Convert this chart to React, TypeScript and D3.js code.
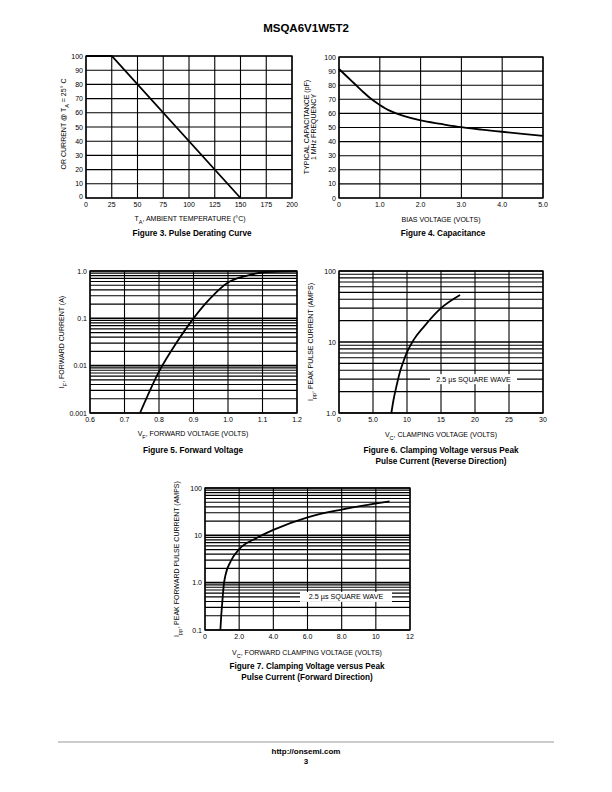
import React from "react";
import * as d3 from "d3";

// ---------- DATA ----------
const fig3TempC = [0, 25, 150];
const fig3Percent = [100, 100, 0];
const fig3XTicks = [0, 25, 50, 75, 100, 125, 150, 175, 200];
const fig3YTicks = [0, 10, 20, 30, 40, 50, 60, 70, 80, 90, 100];

const fig4BiasV = [0, 0.2, 0.4, 0.6, 0.8, 1.0, 1.2, 1.4, 1.6, 2.0, 2.5, 3.0, 3.5, 4.0, 4.5, 5.0];
const fig4CapPF = [91.5, 86, 80.5, 75, 70, 66, 62.5, 60, 58, 55, 52.5, 50.2, 48.5, 47, 45.5, 44];
const fig4XTicks = [0, 1, 2, 3, 4, 5];
const fig4XLabels = ["0", "1.0", "2.0", "3.0", "4.0", "5.0"];
const fig4YTicks = [0, 10, 20, 30, 40, 50, 60, 70, 80, 90, 100];

const fig5FwdV = [0.745, 0.8, 0.85, 0.9, 0.95, 1.0, 1.05, 1.1, 1.15, 1.2];
const fig5FwdI = [0.001, 0.0075, 0.03, 0.1, 0.27, 0.57, 0.78, 0.93, 0.97, 0.98];
const fig5XTicks = [0.6, 0.7, 0.8, 0.9, 1.0, 1.1, 1.2];
const fig5XLabels = ["0.6", "0.7", "0.8", "0.9", "1.0", "1.1", "1.2"];
const fig5YTicks = [0.001, 0.01, 0.1, 1];
const fig5YLabels = ["0.001", "0.01", "0.1", "1.0"];

const fig6ClampV = [7.7, 8.0, 8.5, 9, 9.5, 10, 11, 12.5, 15, 17.8];
const fig6PeakI = [1.0, 1.5, 2.5, 3.9, 5.4, 7.2, 10.8, 16.5, 30, 46];
const fig6XTicks = [0, 5, 10, 15, 20, 25, 30];
const fig6XLabels = ["0", "5.0", "10", "15", "20", "25", "30"];
const fig6YTicks = [1, 10, 100];
const fig6YLabels = ["1.0", "10", "100"];

const fig7ClampV = [0.9, 0.95, 1.0, 1.1, 1.2, 1.5, 2.0, 3.0, 4.0, 6.0, 8.0, 10.8];
const fig7PeakI = [0.1, 0.2, 0.34, 0.9, 1.45, 2.8, 5.1, 8.7, 13, 24, 35, 52];
const fig7XTicks = [0, 2, 4, 6, 8, 10, 12];
const fig7XLabels = ["0", "2.0", "4.0", "6.0", "8.0", "10", "12"];
const fig7YTicks = [0.1, 1, 10, 100];
const fig7YLabels = ["0.1", "1.0", "10", "100"];

const squareWaveNote = "2.5 \u00b5s SQUARE WAVE";

// ---------- STYLE ----------
const NARROW = "'Liberation Sans Narrow', 'Arial Narrow', 'Liberation Sans', Arial, sans-serif";
const SANS = "'Liberation Sans', Arial, Helvetica, sans-serif";

type PanelProps = {
  x0: number; y0: number; w: number; h: number;
  xDomain: [number, number]; yDomain: [number, number];
  logY?: boolean;
  xTicks: number[]; xLabels?: string[];
  yTicks: number[]; yLabels?: string[];
  xs: number[]; ys: number[];
  curve?: any;
  note?: { y: number; x1: number; x2: number };
  zeroRaised?: boolean;
};

function Panel(p: PanelProps) {
  const x = d3.scaleLinear().domain(p.xDomain).range([p.x0, p.x0 + p.w]);
  const y = (p.logY ? d3.scaleLog() : d3.scaleLinear()).domain(p.yDomain).range([p.y0 + p.h, p.y0]) as any;
  const hLines: { v: number; major: boolean }[] = [];
  if (p.logY) {
    const [lo, hi] = p.yDomain;
    for (let d = lo; d < hi * 0.999; d *= 10) {
      for (let k = 1; k <= 9; k++) hLines.push({ v: d * k, major: k === 1 });
    }
    hLines.push({ v: hi, major: true });
  } else {
    p.yTicks.forEach((t) => hLines.push({ v: t, major: false }));
  }
  const pts = p.xs.map((v, i) => [v, p.ys[i]] as [number, number]);
  const line = d3.line<[number, number]>().x((d) => x(d[0])).y((d) => y(d[1])).curve(p.curve || d3.curveMonotoneX);
  return (
    <g>
      {hLines.map((l, i) => (
        <line key={"h" + i} x1={p.x0} x2={p.x0 + p.w} y1={y(l.v)} y2={y(l.v)} stroke="#000" strokeWidth={l.major && p.logY ? 1.6 : 1.1} />
      ))}
      {p.xTicks.map((t, i) => (
        <line key={"v" + i} x1={x(t)} x2={x(t)} y1={p.y0} y2={p.y0 + p.h} stroke="#000" strokeWidth={1.1} />
      ))}
      <rect x={p.x0} y={p.y0} width={p.w} height={p.h} fill="none" stroke="#000" strokeWidth={1.3} />
      {p.note && (
        <g>
          <rect x={p.note.x1} y={y(p.note.y) - 5} width={p.note.x2 - p.note.x1} height={10} fill="#fff" />
          <text x={(p.note.x1 + p.note.x2) / 2} y={y(p.note.y) + 2.5} textAnchor="middle" fontSize={7.2} fontFamily={SANS}>{squareWaveNote}</text>
        </g>
      )}
      <path d={line(pts) || ""} fill="none" stroke="#000" strokeWidth={1.8} />
      {p.xTicks.map((t, i) => (
        <text key={"xl" + i} x={x(t)} y={p.y0 + p.h + 9} textAnchor="middle" fontSize={7} fontFamily={NARROW}>
          {p.xLabels ? p.xLabels[i] : String(t)}
        </text>
      ))}
      {p.yTicks.map((t, i) => (
        <text key={"yl" + i} x={p.x0 - 3} y={y(t) + 2.5 - (p.zeroRaised && i === 0 ? 2 : 0)} textAnchor="end" fontSize={7} fontFamily={NARROW}>
          {p.yLabels ? p.yLabels[i] : String(t)}
        </text>
      ))}
    </g>
  );
}

function Sub({ children }: { children: any }) {
  return <tspan baselineShift="sub" fontSize={5.5}>{children}</tspan>;
}

function AxisTitle({ x, y, rotate, children }: { x: number; y: number; rotate?: boolean; children: any }) {
  return (
    <text x={x} y={y} textAnchor="middle" fontSize={7} fontFamily={NARROW}
      transform={rotate ? `rotate(-90 ${x} ${y})` : undefined}>
      {children}
    </text>
  );
}

function Caption({ x, y, lines }: { x: number; y: number; lines: string[] }) {
  return (
    <text x={x} y={y} textAnchor="middle" fontSize={8.2} fontWeight="bold" fontFamily={SANS}>
      {lines.map((l, i) => (
        <tspan key={i} x={x} dy={i === 0 ? 0 : 10.5}>{l}</tspan>
      ))}
    </text>
  );
}

export default function App() {
  return (
    <svg width={612} height={792} viewBox="0 0 612 792"
      style={{ position: "absolute", left: 0, top: 0, background: "#fff" }}>
      <rect x={0} y={0} width={612} height={792} fill="#fff" />
      <text x={306} y={32} textAnchor="middle" fontSize={11.5} fontWeight="bold" fontFamily={SANS}>MSQA6V1W5T2</text>

      {/* Figure 3 */}
      <Panel x0={86} y0={56} w={206} h={142} xDomain={[0, 200]} yDomain={[0, 100]} zeroRaised
        xTicks={fig3XTicks} yTicks={fig3YTicks} xs={fig3TempC} ys={fig3Percent} curve={d3.curveLinear} />
      <AxisTitle x={66} y={124} rotate>
        OR CURRENT @ T<Sub>A</Sub> = 25° C
      </AxisTitle>
      <AxisTitle x={190} y={221}>T<Sub>A</Sub>, AMBIENT TEMPERATURE (°C)</AxisTitle>
      <Caption x={192} y={236} lines={["Figure 3. Pulse Derating Curve"]} />

      {/* Figure 4 */}
      <Panel x0={339} y0={57} w={204} h={141} xDomain={[0, 5]} yDomain={[0, 100]}
        xTicks={fig4XTicks} xLabels={fig4XLabels} yTicks={fig4YTicks} xs={fig4BiasV} ys={fig4CapPF} />
      <AxisTitle x={309} y={127} rotate>TYPICAL CAPACITANCE (pF)</AxisTitle>
      <AxisTitle x={316} y={127} rotate>1 MHz FREQUENCY</AxisTitle>
      <AxisTitle x={441} y={222}>BIAS VOLTAGE (VOLTS)</AxisTitle>
      <Caption x={443} y={236} lines={["Figure 4. Capacitance"]} />

      {/* Figure 5 */}
      <Panel x0={90} y0={271} w={207} h={142} xDomain={[0.6, 1.2]} yDomain={[0.001, 1]} logY
        xTicks={fig5XTicks} xLabels={fig5XLabels} yTicks={fig5YTicks} yLabels={fig5YLabels}
        xs={fig5FwdV} ys={fig5FwdI} />
      <AxisTitle x={64} y={342} rotate>I<Sub>F</Sub>, FORWARD CURRENT (A)</AxisTitle>
      <AxisTitle x={193} y={436}>V<Sub>F</Sub>, FORWARD VOLTAGE (VOLTS)</AxisTitle>
      <Caption x={193} y={453} lines={["Figure 5. Forward Voltage"]} />

      {/* Figure 6 */}
      <Panel x0={339} y0={271} w={204} h={142} xDomain={[0, 30]} yDomain={[1, 100]} logY
        xTicks={fig6XTicks} xLabels={fig6XLabels} yTicks={fig6YTicks} yLabels={fig6YLabels}
        xs={fig6ClampV} ys={fig6PeakI} note={{ y: 3, x1: 430, x2: 517 }} />
      <AxisTitle x={313} y={342} rotate>I<Sub>pp</Sub>, PEAK PULSE CURRENT (AMPS)</AxisTitle>
      <AxisTitle x={441} y={437}>V<Sub>C</Sub>, CLAMPING VOLTAGE (VOLTS)</AxisTitle>
      <Caption x={441} y={453} lines={["Figure 6. Clamping Voltage versus Peak", "Pulse Current (Reverse Direction)"]} />

      {/* Figure 7 */}
      <Panel x0={205} y0={488} w={205} h={142} xDomain={[0, 12]} yDomain={[0.1, 100]} logY
        xTicks={fig7XTicks} xLabels={fig7XLabels} yTicks={fig7YTicks} yLabels={fig7YLabels}
        xs={fig7ClampV} ys={fig7PeakI} note={{ y: 0.5, x1: 300, x2: 392 }} />
      <AxisTitle x={179} y={559} rotate>I<Sub>pp</Sub>, PEAK FORWARD PULSE CURRENT (AMPS)</AxisTitle>
      <AxisTitle x={307} y={655}>V<Sub>C</Sub>, FORWARD CLAMPING VOLTAGE (VOLTS)</AxisTitle>
      <Caption x={307} y={669} lines={["Figure 7. Clamping Voltage versus Peak", "Pulse Current (Forward Direction)"]} />

      {/* Footer */}
      <line x1={58} x2={554} y1={742} y2={742} stroke="#999" strokeWidth={1} />
      <text x={306} y={754} textAnchor="middle" fontSize={8} fontWeight="bold" fontFamily={SANS}>http://onsemi.com</text>
      <text x={306} y={764} textAnchor="middle" fontSize={8} fontWeight="bold" fontFamily={SANS}>3</text>
    </svg>
  );
}
